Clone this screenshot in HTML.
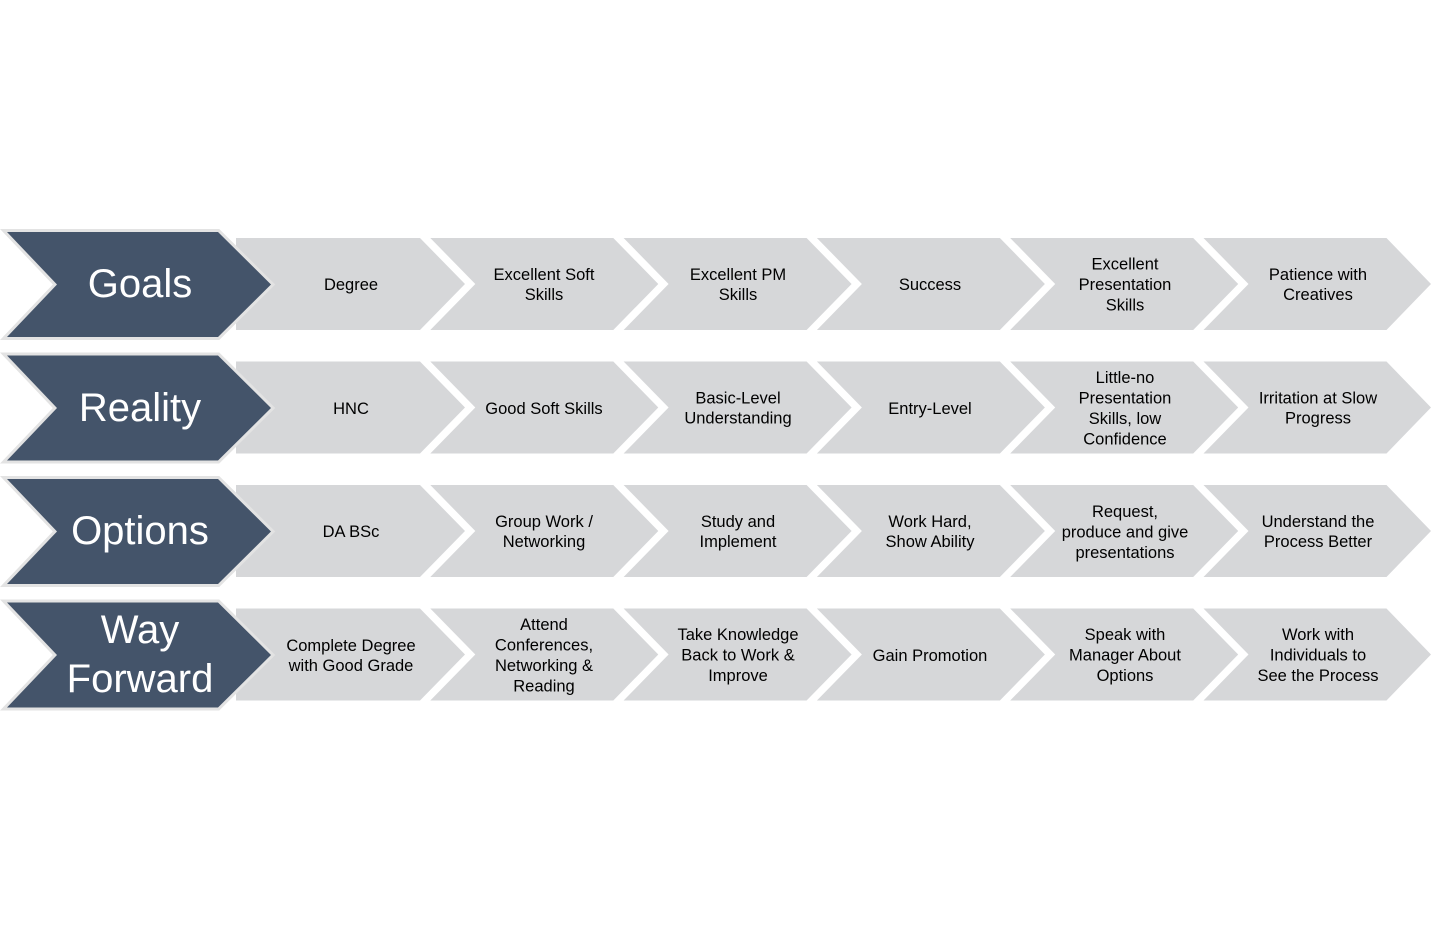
<!DOCTYPE html>
<html><head><meta charset="utf-8"><style>
html,body{margin:0;padding:0;background:#fff;width:1431px;height:939px;overflow:hidden}
svg{display:block}
.t{font-family:"Liberation Sans",Arial,sans-serif;font-size:16.5px;fill:#000;text-anchor:middle}
.h{font-family:"Liberation Sans",Arial,sans-serif;font-size:40px;fill:#fff;text-anchor:middle}
</style></head><body>
<svg width="1431" height="939" viewBox="0 0 1431 939" xmlns="http://www.w3.org/2000/svg">
<defs>
<g id="row">
  <polygon points="236,238 420,238 465,284 420,330 236,330" fill="#d6d7d9"/>
  <polygon points="430.3,238 613.3,238 658.3,284 613.3,330 430.3,330 475.3,284" fill="#d6d7d9"/>
  <polygon points="623.6,238 806.6,238 851.6,284 806.6,330 623.6,330 668.6,284" fill="#d6d7d9"/>
  <polygon points="816.9,238 999.9,238 1044.9,284 999.9,330 816.9,330 861.9,284" fill="#d6d7d9"/>
  <polygon points="1010.2,238 1193.2,238 1238.2,284 1193.2,330 1010.2,330 1055.2,284" fill="#d6d7d9"/>
  <polygon points="1203.5,238 1386.5,238 1431,284 1386.5,330 1203.5,330 1248.5,284" fill="#d6d7d9"/>
  <polygon points="7,232 218,232 271,284.5 218,337 7,337 57,284.5" fill="#e3e3e3" stroke="#e3e3e3" stroke-width="6" stroke-linejoin="miter"/>
  <polygon points="7,232 218,232 271,284.5 218,337 7,337 57,284.5" fill="#44546a"/>
</g>
</defs>
<use href="#row"/>
<use href="#row" y="123.5"/>
<use href="#row" y="247"/>
<use href="#row" y="370.5"/>

<!-- Row 1 -->
<text class="h" x="140" y="297">Goals</text>
<text class="t" x="351" y="290">Degree</text>
<text class="t" x="544" y="280">Excellent Soft</text>
<text class="t" x="544" y="300">Skills</text>
<text class="t" x="738" y="280">Excellent PM</text>
<text class="t" x="738" y="300">Skills</text>
<text class="t" x="930" y="290">Success</text>
<text class="t" x="1125" y="269.5">Excellent</text>
<text class="t" x="1125" y="290">Presentation</text>
<text class="t" x="1125" y="310.5">Skills</text>
<text class="t" x="1318" y="280">Patience with</text>
<text class="t" x="1318" y="300">Creatives</text>

<!-- Row 2 -->
<text class="h" x="140" y="421">Reality</text>
<text class="t" x="351" y="414">HNC</text>
<text class="t" x="544" y="414">Good Soft Skills</text>
<text class="t" x="738" y="403.5">Basic-Level</text>
<text class="t" x="738" y="423.5">Understanding</text>
<text class="t" x="930" y="414">Entry-Level</text>
<text class="t" x="1125" y="383">Little-no</text>
<text class="t" x="1125" y="403.5">Presentation</text>
<text class="t" x="1125" y="424">Skills, low</text>
<text class="t" x="1125" y="444.5">Confidence</text>
<text class="t" x="1318" y="403.5">Irritation at Slow</text>
<text class="t" x="1318" y="423.5">Progress</text>

<!-- Row 3 -->
<text class="h" x="140" y="544">Options</text>
<text class="t" x="351" y="537">DA BSc</text>
<text class="t" x="544" y="527">Group Work /</text>
<text class="t" x="544" y="547">Networking</text>
<text class="t" x="738" y="527">Study and</text>
<text class="t" x="738" y="547">Implement</text>
<text class="t" x="930" y="527">Work Hard,</text>
<text class="t" x="930" y="547">Show Ability</text>
<text class="t" x="1125" y="517">Request,</text>
<text class="t" x="1125" y="537.5">produce and give</text>
<text class="t" x="1125" y="558">presentations</text>
<text class="t" x="1318" y="527">Understand the</text>
<text class="t" x="1318" y="547">Process Better</text>

<!-- Row 4 -->
<text class="h" x="140" y="643">Way</text>
<text class="h" x="140" y="692">Forward</text>
<text class="t" x="351" y="651">Complete Degree</text>
<text class="t" x="351" y="671">with Good Grade</text>
<text class="t" x="544" y="630">Attend</text>
<text class="t" x="544" y="650.5">Conferences,</text>
<text class="t" x="544" y="671">Networking &amp;</text>
<text class="t" x="544" y="691.5">Reading</text>
<text class="t" x="738" y="640">Take Knowledge</text>
<text class="t" x="738" y="660.5">Back to Work &amp;</text>
<text class="t" x="738" y="681">Improve</text>
<text class="t" x="930" y="661">Gain Promotion</text>
<text class="t" x="1125" y="640">Speak with</text>
<text class="t" x="1125" y="660.5">Manager About</text>
<text class="t" x="1125" y="681">Options</text>
<text class="t" x="1318" y="640">Work with</text>
<text class="t" x="1318" y="660.5">Individuals to</text>
<text class="t" x="1318" y="681">See the Process</text>
</svg>
</body></html>
